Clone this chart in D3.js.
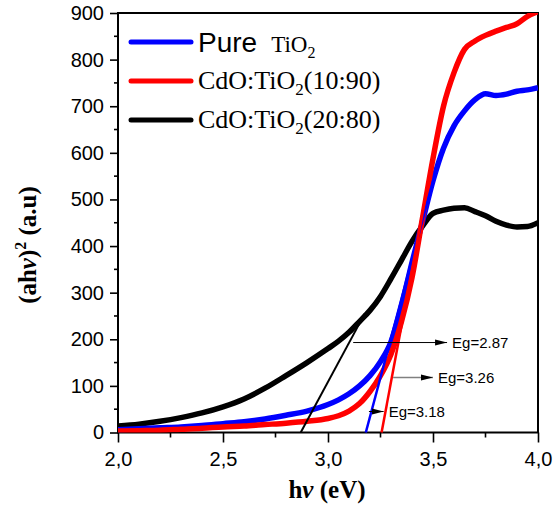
<!DOCTYPE html>
<html>
<head>
<meta charset="utf-8">
<script src="https://cdn.jsdelivr.net/npm/d3@7"></script>
<style>
	body{margin:0;background:#fff;}
	text{fill:#000;}
</style>
</head>
<body>
<svg id="chart" width="554" height="511"></svg>
<script>
// photon energy (eV) and (ahv)^2 values
const hv = [2.0, 2.1, 2.2, 2.3, 2.4, 2.5, 2.6, 2.7, 2.8, 2.9, 3.0, 3.05, 3.1, 3.15, 3.2, 3.25, 3.3, 3.35, 3.4, 3.45, 3.5, 3.55, 3.6, 3.65, 3.7, 3.75, 3.8, 3.85, 3.9, 3.95, 4.0];
const pureTiO2 = [6, 8, 10, 12, 15, 19, 23, 29, 37, 46, 60, 70, 83, 100, 122, 152, 195, 272, 365, 452, 540, 610, 658, 690, 714, 727, 723, 726, 732, 735, 740];
const cdo1090 = [3, 4, 5, 7, 9, 12, 14, 17, 20, 24, 30, 36, 46, 62, 88, 122, 168, 238, 332, 460, 588, 700, 772, 822, 840, 852, 861, 869, 877, 893, 903];
const cdo2080 = [14, 18, 24, 32, 42, 55, 72, 95, 122, 150, 180, 196, 215, 238, 262, 292, 330, 370, 410, 443, 470, 477, 481, 482, 474, 465, 453, 445, 441, 442, 450];

// tangent lines used for the band gap (hv, value)
const tangent2080 = [[2.87, 0], [3.175, 255]];
const tangentPure = [[3.18, 0], [3.50, 540]];
const tangent1090 = [[3.255, 0], [3.50, 590]];

// band gap labels: arrow start, arrow end, value level
const gapLabels = ["Eg=2.87", "Eg=3.26", "Eg=3.18"];
const gapArrowFrom = [3.12, 3.31, 3.195];
const gapArrowTo = [3.567, 3.50, 3.265];
const gapLevel = [193, 118, 45];

const xTicks = [2.0, 2.5, 3.0, 3.5, 4.0];
const xTickLabels = ["2,0", "2,5", "3,0", "3,5", "4,0"];
const xMinorTicks = [2.25, 2.75, 3.25, 3.75];
const yTicks = [0, 100, 200, 300, 400, 500, 600, 700, 800, 900];
const yMinorTicks = [50, 150, 250, 350, 450, 550, 650, 750, 850];

let svg = d3.select("#chart"),
	plotLeft = 118, plotRight = 538, plotTop = 13, plotBottom = 432.5,
	sans = "'Liberation Sans', Arial, sans-serif",
	serif = "'Liberation Serif', 'Times New Roman', serif",
	x = d3.scaleLinear().domain([2, 4]).range([plotLeft, plotRight]),
	y = d3.scaleLinear().domain([0, 900]).range([plotBottom, plotTop]);

svg.append("rect").attr("width", 554).attr("height", 511).attr("fill", "#fff");

let defs = svg.append("defs");
defs.append("clipPath").attr("id", "plotClip")
	.append("rect")
	.attr("x", plotLeft).attr("y", plotTop)
	.attr("width", plotRight - plotLeft).attr("height", plotBottom - plotTop);
defs.append("marker")
	.attr("id", "arrow")
	.attr("markerUnits", "userSpaceOnUse")
	.attr("markerWidth", 13).attr("markerHeight", 8)
	.attr("refX", 12).attr("refY", 4)
	.attr("orient", "auto")
	.append("path")
	.attr("d", "M0,1 L12,4 L0,7 Z")
	.attr("fill", "#000");

drawAxes();
drawCurves();
drawTangents();
drawGapLabels();
drawLegend();
drawTitles();

function drawAxes(){
	let xAxis = d3.axisBottom(x).tickValues(xTicks).tickSize(10).tickPadding(9)
			.tickFormat(function(d, i){ return xTickLabels[i]; }),
		yAxis = d3.axisLeft(y).tickValues(yTicks).tickSize(8).tickPadding(6);

	let gx = svg.append("g").attr("transform", "translate(0," + plotBottom + ")").call(xAxis);
	gx.append("g").selectAll("line").data(xMinorTicks).enter().append("line")
		.attr("x1", d => x(d)).attr("x2", d => x(d))
		.attr("y1", 0).attr("y2", 5);

	let gy = svg.append("g").attr("transform", "translate(" + plotLeft + ",0)").call(yAxis);
	gy.append("g").selectAll("line").data(yMinorTicks).enter().append("line")
		.attr("x1", 0).attr("x2", -4)
		.attr("y1", d => y(d)).attr("y2", d => y(d));

	[gx, gy].forEach(function(g){
		g.select(".domain").remove();
		g.selectAll("line").attr("stroke", "#000").attr("stroke-width", 1.6);
		g.selectAll("text").attr("font-family", sans).attr("font-size", 20).attr("fill", "#000");
	});

	// frame around the plot
	svg.append("rect")
		.attr("x", plotLeft).attr("y", plotTop)
		.attr("width", plotRight - plotLeft).attr("height", plotBottom - plotTop)
		.attr("fill", "none").attr("stroke", "#000").attr("stroke-width", 2);
}

function drawCurves(){
	let line = d3.line()
			.x(function(d){ return x(d[0]); })
			.y(function(d){ return y(d[1]); })
			.curve(d3.curveMonotoneX),
		series = [
			{values: cdo2080, color: "#000"},
			{values: pureTiO2, color: "#0000ff"},
			{values: cdo1090, color: "#ff0000"}
		],
		g = svg.append("g").attr("clip-path", "url(#plotClip)");

	series.forEach(function(s){
		g.append("path")
			.datum(hv.map(function(h, i){ return [h, s.values[i]]; }))
			.attr("d", line)
			.attr("fill", "none")
			.attr("stroke", s.color)
			.attr("stroke-width", 5.5)
			.attr("stroke-linejoin", "round");
	});
}

function drawTangents(){
	let tangents = [
		{pts: tangent2080, color: "#000", w: 2},
		{pts: tangentPure, color: "#0000ff", w: 2.5},
		{pts: tangent1090, color: "#ff0000", w: 2.5}
	];
	tangents.forEach(function(t){
		svg.append("line")
			.attr("x1", x(t.pts[0][0])).attr("y1", y(t.pts[0][1]))
			.attr("x2", x(t.pts[1][0])).attr("y2", y(t.pts[1][1]))
			.attr("stroke", t.color)
			.attr("stroke-width", t.w);
	});
}

function drawGapLabels(){
	gapLabels.forEach(function(label, i){
		svg.append("line")
			.attr("x1", x(gapArrowFrom[i])).attr("x2", x(gapArrowTo[i]))
			.attr("y1", y(gapLevel[i])).attr("y2", y(gapLevel[i]))
			.attr("stroke", i === 1 ? "#808080" : "#000")
			.attr("stroke-width", i === 1 ? 1.5 : 1)
			.attr("marker-end", "url(#arrow)");
		svg.append("text")
			.attr("x", x(gapArrowTo[i]) + 5)
			.attr("y", y(gapLevel[i]))
			.attr("dy", "0.36em")
			.attr("font-family", sans)
			.attr("font-size", 15)
			.text(label);
	});
}

function drawLegend(){
	let items = [
		{color: "#0000ff", y: 42},
		{color: "#ff0000", y: 81},
		{color: "#000", y: 120}
	];
	items.forEach(function(it){
		svg.append("line")
			.attr("x1", 131).attr("x2", 191)
			.attr("y1", it.y).attr("y2", it.y)
			.attr("stroke", it.color)
			.attr("stroke-width", 5)
			.attr("stroke-linecap", "round");
	});

	// "Pure TiO2"
	let t1 = svg.append("text").attr("x", 198).attr("y", 52);
	t1.append("tspan").attr("font-family", sans).attr("font-size", 28).text("Pure");
	t1.append("tspan").attr("font-family", serif).attr("font-size", 23).attr("dx", 14).text("TiO");
	t1.append("tspan").attr("font-family", serif).attr("font-size", 16).attr("dy", 6).text("2");

	[["10:90", 89], ["20:80", 128]].forEach(function(d){
		let t = svg.append("text").attr("x", 198).attr("y", d[1])
			.attr("font-family", serif).attr("font-size", 26);
		t.append("tspan").text("CdO:TiO");
		t.append("tspan").attr("font-size", 17).attr("dy", 6).text("2");
		t.append("tspan").attr("dy", -6).text("(" + d[0] + ")");
	});
}

function drawTitles(){
	let xt = svg.append("text")
		.attr("x", 327).attr("y", 498)
		.attr("text-anchor", "middle")
		.attr("font-family", serif).attr("font-size", 25).attr("font-weight", "bold");
	xt.append("tspan").text("h");
	xt.append("tspan").attr("font-style", "italic").text("ν");
	xt.append("tspan").text(" (eV)");

	let yt = svg.append("text")
		.attr("transform", "translate(36,245) rotate(-90)")
		.attr("text-anchor", "middle")
		.attr("font-family", serif).attr("font-size", 25).attr("font-weight", "bold");
	yt.append("tspan").text("(ah");
	yt.append("tspan").attr("font-style", "italic").text("ν");
	yt.append("tspan").text(")");
	yt.append("tspan").attr("font-size", 16).attr("dy", -10).text("2");
	yt.append("tspan").attr("dy", 10).text(" (a.u)");
}
</script>
</body>
</html>
